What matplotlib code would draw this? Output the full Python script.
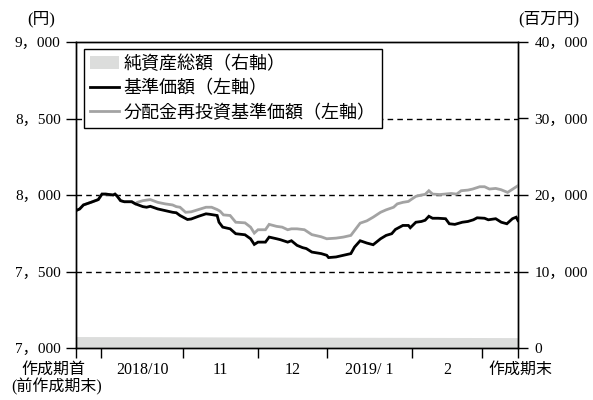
import numpy as np
import matplotlib.pyplot as plt
from matplotlib.patches import Patch
from matplotlib.lines import Line2D
from matplotlib.ticker import FixedLocator, FixedFormatter

plt.rcParams['font.family'] = ['Liberation Serif', 'Noto Sans CJK JP']

# day index (business days since start of period) and values
nav_x = [0, 1, 2, 4, 6, 7, 8, 10, 10.5, 11, 12, 13, 15, 16, 18, 19, 20, 22, 24, 26,
         27, 28, 30, 31, 33, 35, 36, 38, 38.5, 39.5, 41.5, 43, 45.5, 47, 48, 49, 51,
         52, 54, 55, 57, 58, 59.5, 61, 62, 63.5, 66, 67.5, 68, 70, 72, 74, 75, 76.5,
         78.3, 80, 82, 83.5, 85, 86, 88, 89.5, 90, 91.5, 93, 94, 95, 96, 97.5, 99.5,
         100.5, 102, 104, 105.5, 107, 108, 110, 111, 113, 114.5, 116, 117.5, 118.5, 119]
nav = [7898, 7909, 7935, 7952, 7970, 8006, 8006, 8000, 8006, 7995, 7963, 7956, 7956,
       7942, 7924, 7920, 7926, 7909, 7898, 7887, 7884, 7866, 7840, 7843, 7861, 7877,
       7874, 7866, 7822, 7790, 7779, 7747, 7740, 7714, 7677, 7692, 7692, 7725, 7714,
       7708, 7692, 7701, 7671, 7656, 7650, 7627, 7617, 7606, 7591, 7595, 7606, 7617,
       7660, 7701, 7686, 7675, 7714, 7736, 7747, 7775, 7801, 7801, 7786, 7822, 7827,
       7835, 7861, 7848, 7848, 7845, 7812, 7808, 7822, 7827, 7838, 7851, 7848, 7838,
       7845, 7822, 7812, 7845, 7855, 7833]

reinv_x = [0, 1, 2, 4, 6, 7, 8, 10, 10.5, 11, 12, 13, 15, 16, 16.5, 18, 20, 22, 24,
           26, 27, 28, 29.5, 31, 33, 35, 36.5, 38, 38.8, 39.7, 41.5, 43, 45.5, 47, 48,
           49, 51, 52, 54, 55.5, 57, 58, 59.5, 61.5, 63.5, 66, 67.5, 70, 72, 74, 75,
           76.5, 78.3, 80, 82, 83.5, 85.5, 86.5, 88, 89.5, 90.2, 91.5, 93, 94, 95, 96,
           98, 101, 102.5, 103.7, 105.5, 106.8, 108.7, 110, 111.3, 113, 114.4, 116.2,
           117.6, 119]
reinv = [7898, 7909, 7935, 7952, 7970, 8006, 8006, 8000, 8006, 7995, 7963, 7956, 7956,
         7942, 7952, 7963, 7970, 7952, 7942, 7935, 7924, 7920, 7887, 7890, 7905, 7920,
         7920, 7905, 7894, 7870, 7866, 7822, 7818, 7790, 7751, 7773, 7773, 7808, 7795,
         7790, 7773, 7779, 7779, 7773, 7741, 7727, 7714, 7718, 7725, 7736, 7768, 7816,
         7831, 7855, 7887, 7903, 7920, 7942, 7952, 7958, 7970, 7991, 8000, 8004, 8028,
         8006, 8003, 8010, 8006, 8028, 8032, 8039, 8054, 8054, 8039, 8043, 8035, 8017,
         8039, 8061]

assets_x = [0, 30, 60, 90, 119]
assets = [1500, 1460, 1420, 1390, 1360]

month_bounds = [0, 6.7, 28.9, 48.9, 67.6, 90.5, 109.3, 119]
month_pos = [17.8, 38.9, 58.2, 79.0, 99.9]
month_labels = ['2018/10', '11', '12', '2019/ 1', '2']

left_ticks = [7000, 7500, 8000, 8500, 9000]
left_labels = ['7，000', '7，500', '8，000', '8，500', '9，000']
right_ticks = [0, 10000, 20000, 30000, 40000]
right_labels = ['0', '10，000', '20，000', '30，000', '40，000']

fig = plt.figure(figsize=(5.93, 4.0), dpi=100)
ax = fig.add_axes([76 / 593, 52 / 400, 442 / 593, 306 / 400])
ax2 = ax.twinx()
ax.set_zorder(ax2.get_zorder() + 1)
ax.patch.set_visible(False)

area_color = '#dcdddc'
gray = '#a3a3a3'

ax2.fill_between(assets_x, 0, assets, color=area_color, lw=0)
ax2.set_ylim(0, 40000)

ax.plot(reinv_x, reinv, color=gray, lw=2.0, solid_joinstyle='miter')
ax.plot(nav_x, nav, color='black', lw=2.0, solid_joinstyle='miter')

ax.set_xlim(0, 119)
ax.set_ylim(7000, 9000)

for y in [7500, 8000, 8500]:
    ax.axhline(y, color='black', lw=1.0, ls=(0, (4, 3)), zorder=0)

ax.yaxis.set_major_locator(FixedLocator(left_ticks))
ax.yaxis.set_major_formatter(FixedFormatter(left_labels))
ax2.yaxis.set_major_locator(FixedLocator(right_ticks))
ax2.yaxis.set_major_formatter(FixedFormatter(right_labels))
ax.tick_params(axis='y', direction='out', length=7, width=1, pad=4, labelsize=11)
ax2.tick_params(axis='y', direction='out', length=7, width=1, pad=5, labelsize=11)

ax.xaxis.set_major_locator(FixedLocator(month_bounds))
ax.xaxis.set_major_formatter(FixedFormatter([''] * len(month_bounds)))
ax.xaxis.set_minor_locator(FixedLocator(month_pos))
ax.xaxis.set_minor_formatter(FixedFormatter(month_labels))
ax.tick_params(axis='x', which='major', direction='out', length=7, width=1)
ax.tick_params(axis='x', which='minor', length=0, pad=10, labelsize=11.5)

for a in (ax, ax2):
    for s in a.spines.values():
        s.set_linewidth(1.0)

ax.text(-0.05, -0.07, '作成期首', transform=ax.transAxes, ha='center', va='center',
        fontsize=11.5)
ax.text(-0.043, -0.128, '(前作成期末)', transform=ax.transAxes, ha='center', va='center',
        fontsize=11.5)
ax.text(1.005, -0.072, '作成期末', transform=ax.transAxes, ha='center', va='center',
        fontsize=11.5)
ax.text(-0.078, 1.075, '(円)', transform=ax.transAxes, ha='center', va='center',
        fontsize=12)
ax.text(1.07, 1.075, '(百万円)', transform=ax.transAxes, ha='center', va='center',
        fontsize=12)

handles = [Patch(facecolor=area_color, edgecolor='none'),
           Line2D([], [], color='black', lw=2.0),
           Line2D([], [], color=gray, lw=2.0)]
labels = ['純資産総額（右軸）', '基準価額（左軸）', '分配金再投資基準価額（左軸）']
leg = ax.legend(handles, labels, loc='upper left', bbox_to_anchor=(0.018, 0.977),
                borderaxespad=0, fancybox=False, edgecolor='black', framealpha=1,
                fontsize=13, handlelength=1.6, handletextpad=0.25, borderpad=0.35,
                labelspacing=0.4)
leg.get_frame().set_linewidth(1.0)

fig.savefig('out.png', dpi=100)
